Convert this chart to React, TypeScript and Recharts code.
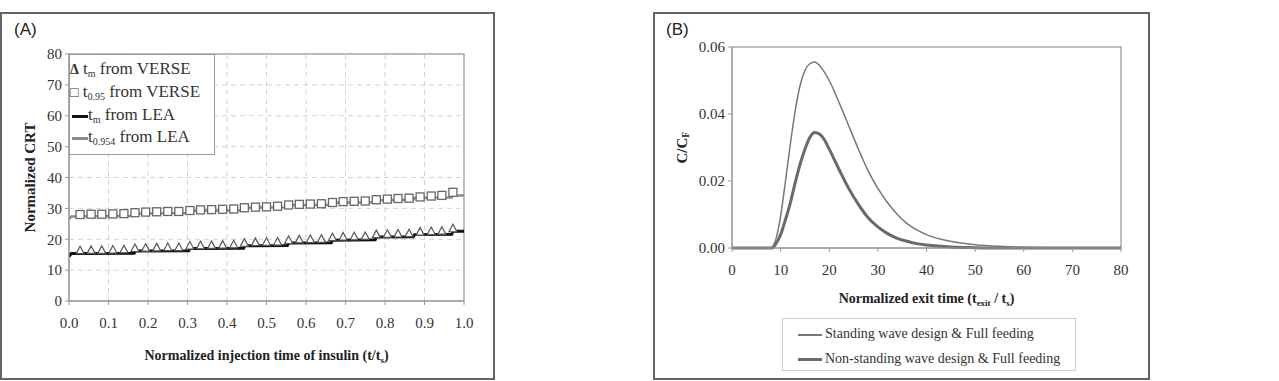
import React from 'react';
import { ComposedChart, LineChart, Line, Scatter, XAxis, YAxis, CartesianGrid, ReferenceArea, Label } from 'recharts';

// (A) marker positions of the VERSE runs, t/ts
const markerX = [0.028, 0.056, 0.083, 0.111, 0.139, 0.167, 0.194, 0.222, 0.25, 0.278, 0.306, 0.333, 0.361, 0.389, 0.417, 0.444, 0.472, 0.5, 0.528, 0.556, 0.583, 0.611, 0.639, 0.667, 0.694, 0.722, 0.75, 0.778, 0.806, 0.833, 0.861, 0.889, 0.917, 0.944, 0.972];
const tmVerse = [16.3, 16.4, 16.4, 16.5, 16.6, 17.0, 17.1, 17.2, 17.3, 17.3, 17.8, 17.9, 18.0, 18.1, 18.2, 18.7, 18.9, 19.0, 19.1, 19.6, 19.8, 19.9, 20.0, 20.5, 20.7, 20.8, 20.9, 21.5, 21.6, 21.7, 21.8, 22.3, 22.5, 22.6, 23.4];
const t095Verse = [28.0, 28.1, 28.1, 28.2, 28.3, 28.6, 28.8, 28.9, 29.0, 29.0, 29.3, 29.5, 29.6, 29.7, 29.8, 30.2, 30.4, 30.5, 30.7, 31.1, 31.3, 31.4, 31.5, 31.9, 32.2, 32.3, 32.4, 32.8, 33.0, 33.2, 33.3, 33.7, 34.0, 34.2, 35.2];

// (A) LEA step curves
const leaX = [0, 0.006, 0.165, 0.168, 0.303, 0.306, 0.442, 0.445, 0.553, 0.556, 0.664, 0.667, 0.775, 0.778, 0.872, 0.875, 0.969, 0.972, 1.0];
const tmLea = [14.4, 15.4, 15.5, 16.2, 16.3, 17.0, 17.1, 17.9, 18.0, 18.8, 18.9, 19.7, 19.8, 20.7, 20.8, 21.5, 21.6, 22.6, 22.6];
const t0954Lea = [26.5, 27.4, 27.6, 28.3, 28.5, 29.2, 29.4, 30.2, 30.4, 31.0, 31.2, 31.8, 32.0, 32.6, 32.8, 33.4, 33.5, 34.2, 34.2];

const injTicks = [0, 0.1, 0.2, 0.3, 0.4, 0.5, 0.6, 0.7, 0.8, 0.9, 1.0];
const crtTicks = [0, 10, 20, 30, 40, 50, 60, 70, 80];

// (B) exit profiles
const standingX = [0, 8, 8.5, 9, 10, 11, 12, 13, 14, 15, 16, 17, 18, 19, 20, 22, 24, 26, 28, 30, 32, 34, 36, 38, 40, 43, 46, 50, 55, 60, 65, 70, 80];
const standingC = [0, 0, 0.0008, 0.0025, 0.0095, 0.02, 0.031, 0.041, 0.0485, 0.053, 0.055, 0.0555, 0.0545, 0.0525, 0.05, 0.0435, 0.0365, 0.0295, 0.023, 0.0178, 0.0135, 0.01, 0.0073, 0.0054, 0.004, 0.0026, 0.0017, 0.001, 0.0005, 0.0002, 0.0001, 0, 0];
const nonStandingX = [0, 8.3, 9, 10, 11, 12, 13, 14, 15, 16, 17, 18, 19, 20, 22, 24, 26, 28, 30, 32, 34, 36, 38, 40, 45, 50, 55, 80];
const nonStandingC = [0, 0, 0.0012, 0.004, 0.0085, 0.0135, 0.0195, 0.025, 0.0295, 0.033, 0.0345, 0.034, 0.0323, 0.0295, 0.0235, 0.0178, 0.013, 0.009, 0.0063, 0.0043, 0.0029, 0.002, 0.0013, 0.0009, 0.0003, 0.0001, 0, 0];

const exitTicks = [0, 10, 20, 30, 40, 50, 60, 70, 80];
const concTicks = [0, 0.02, 0.04, 0.06];

const serif = '"Liberation Serif", "Times New Roman", serif';
const sans = '"Liberation Sans", Arial, sans-serif';

const zip = (xs: number[], ys: number[]) => xs.map((x, i) => ({ x, y: ys[i] }));

const Triangle = (p: any) => (
  <polygon points={`${p.cx},${p.cy - 4.5} ${p.cx - 4},${p.cy + 3} ${p.cx + 4},${p.cy + 3}`} fill="#fff" stroke="#555" strokeWidth={1.2} />
);
const Square = (p: any) => (
  <rect x={p.cx - 4} y={p.cy - 4} width={8} height={8} fill="#fff" stroke="#666" strokeWidth={1.3} />
);

const panelBox: React.CSSProperties = { position: 'absolute', top: 12, height: 364, border: '2px solid #666', boxSizing: 'content-box' };
const tickStyle = { fill: '#333', fontSize: 15, fontFamily: serif };
const subStyle: React.CSSProperties = { fontSize: 10, verticalAlign: 'baseline', position: 'relative', top: 3, lineHeight: 0 };
const legendLine = (color: string, h: number): React.CSSProperties => ({ display: 'inline-block', width: 16, height: h, background: color, verticalAlign: 'middle', marginLeft: 2 });

export default function App() {
  return (
    <div style={{ position: 'absolute', left: 0, top: 0, width: 1279, height: 381, background: '#fff', overflow: 'hidden' }}>
      {/* panel A */}
      <div style={{ ...panelBox, left: 0, width: 491 }} />
      <div style={{ position: 'absolute', left: 14, top: 20, fontFamily: sans, fontSize: 17, color: '#222' }}>(A)</div>
      <div style={{ position: 'absolute', left: 0, top: 0 }}>
        <ComposedChart width={494} height={378} margin={{ top: 54, right: 30, left: 29, bottom: 47 }}>
          <CartesianGrid strokeDasharray="5 4" stroke="#d4d4d4" />
          <ReferenceArea x1={0} x2={1} y1={0} y2={80} fill="none" stroke="#aaa" strokeWidth={1.5} />
          <XAxis type="number" dataKey="x" domain={[0, 1]} ticks={injTicks} tickFormatter={(v) => v.toFixed(1)}
            tick={tickStyle} stroke="#999" tickSize={4} tickMargin={12} height={30} allowDataOverflow>
            <Label content={(props: any) => {
              const vb = props.viewBox;
              return (
                <text x={vb.x + vb.width / 2} y={vb.y + 59} textAnchor="middle" fontFamily={serif} fontWeight="bold" fontSize={14} fill="#222">
                  Normalized injection time of insulin (t/t<tspan dy={3} fontSize={9}>s</tspan><tspan dy={-3}>)</tspan>
                </text>
              );
            }} />
          </XAxis>
          <YAxis type="number" domain={[0, 80]} ticks={crtTicks} tick={tickStyle} stroke="#999" tickSize={4} tickMargin={3} width={40}>
            <Label content={(props: any) => {
              const vb = props.viewBox;
              const cy = vb.y + vb.height / 2;
              return (
                <text x={30} y={cy} transform={`rotate(-90 30 ${cy})`} textAnchor="middle" dominantBaseline="central" fontFamily={serif} fontWeight="bold" fontSize={15} fill="#222">
                  Normalized CRT
                </text>
              );
            }} />
          </YAxis>
          <Line data={zip(leaX, t0954Lea)} dataKey="y" stroke="#8a8a8a" strokeWidth={2.5} dot={false} isAnimationActive={false} />
          <Line data={zip(leaX, tmLea)} dataKey="y" stroke="#111" strokeWidth={3} dot={false} isAnimationActive={false} />
          <Scatter data={zip(markerX, t095Verse)} dataKey="y" shape={Square} isAnimationActive={false} />
          <Scatter data={zip(markerX, tmVerse)} dataKey="y" shape={Triangle} isAnimationActive={false} />
        </ComposedChart>
      </div>
      {/* legend A */}
      <div style={{ position: 'absolute', left: 69, top: 54, width: 146, height: 101, background: '#fff', border: '1px solid #999', boxSizing: 'border-box', fontFamily: serif, fontSize: 17, color: '#333', lineHeight: '22px', paddingTop: 3 }}>
        <div style={{ whiteSpace: 'nowrap' }}><span style={{ fontWeight: 'bold', fontSize: 14 }}>Δ</span> t<span style={subStyle}>m</span> from VERSE</div>
        <div style={{ whiteSpace: 'nowrap' }}><span style={{ fontSize: 14 }}>□</span> t<span style={subStyle}>0.95</span> from VERSE</div>
        <div style={{ whiteSpace: 'nowrap' }}><span style={legendLine('#111', 3)} />t<span style={subStyle}>m</span> from LEA</div>
        <div style={{ whiteSpace: 'nowrap' }}><span style={legendLine('#8a8a8a', 3)} />t<span style={subStyle}>0.954</span> from LEA</div>
      </div>

      {/* panel B */}
      <div style={{ ...panelBox, left: 653, width: 493 }} />
      <div style={{ position: 'absolute', left: 666, top: 20, fontFamily: sans, fontSize: 17, color: '#222' }}>(B)</div>
      <div style={{ position: 'absolute', left: 640, top: 0 }}>
        <LineChart width={509} height={378} margin={{ top: 47, right: 28, left: 47, bottom: 100 }}>
          <ReferenceArea x1={0} x2={80} y1={0} y2={0.06} fill="none" stroke="#aaa" strokeWidth={1.5} />
          <XAxis type="number" dataKey="x" domain={[0, 80]} ticks={exitTicks} tick={tickStyle} stroke="#999" tickSize={4} tickMargin={12} height={30}>
            <Label content={(props: any) => {
              const vb = props.viewBox;
              return (
                <text x={vb.x + vb.width / 2} y={vb.y + 55} textAnchor="middle" fontFamily={serif} fontWeight="bold" fontSize={14} fill="#222">
                  Normalized exit time (t<tspan dy={3} fontSize={9}>exit</tspan><tspan dy={-3}> / t</tspan><tspan dy={3} fontSize={9}>s</tspan><tspan dy={-3}>)</tspan>
                </text>
              );
            }} />
          </XAxis>
          <YAxis type="number" domain={[0, 0.06]} ticks={concTicks} tickFormatter={(v) => v.toFixed(2)} tick={tickStyle} stroke="#999" tickSize={4} tickMargin={3} width={45}>
            <Label content={(props: any) => {
              const vb = props.viewBox;
              const cy = vb.y + vb.height / 2;
              return (
                <text x={42} y={cy} transform={`rotate(-90 42 ${cy})`} textAnchor="middle" dominantBaseline="central" fontFamily={serif} fontWeight="bold" fontSize={15} fill="#222">
                  C/C<tspan dy={3} fontSize={10}>F</tspan>
                </text>
              );
            }} />
          </YAxis>
          <Line data={zip(nonStandingX, nonStandingC)} dataKey="y" type="monotone" stroke="#6a6a6a" strokeWidth={3} dot={false} isAnimationActive={false} />
          <Line data={zip(standingX, standingC)} dataKey="y" type="monotone" stroke="#777" strokeWidth={1.5} dot={false} isAnimationActive={false} />
        </LineChart>
      </div>
      {/* legend B */}
      <div style={{ position: 'absolute', left: 782, top: 318, width: 294, height: 53, background: '#fff', border: '1px solid #ccc', boxSizing: 'border-box', fontFamily: serif, fontSize: 14, color: '#333', lineHeight: '25px', paddingTop: 2, paddingLeft: 15 }}>
        <div style={{ whiteSpace: 'nowrap' }}><span style={{ display: 'inline-block', width: 24, height: 1.5, background: '#777', verticalAlign: 'middle', marginRight: 3 }} />Standing wave design &amp; Full feeding</div>
        <div style={{ whiteSpace: 'nowrap' }}><span style={{ display: 'inline-block', width: 24, height: 3, background: '#6a6a6a', verticalAlign: 'middle', marginRight: 3 }} />Non-standing wave design &amp; Full feeding</div>
      </div>
    </div>
  );
}
